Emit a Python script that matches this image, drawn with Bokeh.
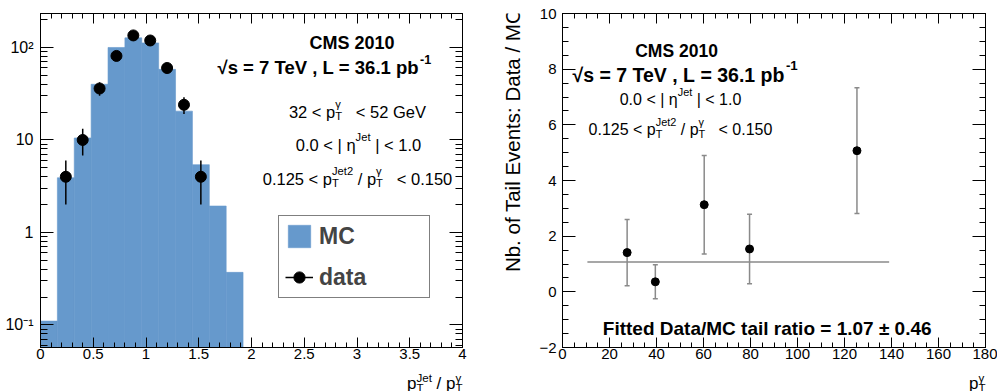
import math
from bokeh.plotting import figure
from bokeh.models import (Label, LinearAxis, LogAxis, FixedTicker, Range1d,
                          ColumnDataSource, Whisker, TeeHead, Legend, LegendItem)
from bokeh.layouts import row, column
from bokeh.embed import file_html
from bokeh.resources import INLINE

# ---------------- data ----------------
bin_edges = [0.0, 0.16, 0.32, 0.48, 0.64, 0.80, 0.96, 1.12, 1.28, 1.44, 1.60, 1.76, 1.92]
mc_counts = [0.11, 3.9, 10.5, 40.0, 100.0, 127.0, 112.0, 58.0, 20.5, 5.4, 1.93, 0.37]
data_x = [0.24, 0.40, 0.56, 0.72, 0.88, 1.04, 1.20, 1.36, 1.52]
data_y = [4, 10, 36, 81, 135, 119, 60, 24, 4]
data_err = [2.0, 3.2, 6.0, 9.0, 11.6, 10.9, 7.7, 4.9, 2.0]

ratio_pt = [27.5, 39.5, 60.3, 79.6, 125.3]
ratio_val = [1.41, 0.36, 3.13, 1.54, 5.07]
ratio_err = [1.19, 0.61, 1.77, 1.25, 2.26]
fit_value = 1.07
fit_range = [10.6, 139.0]

x1_ticks = [0, 0.5, 1, 1.5, 2, 2.5, 3, 3.5, 4]
y1_ticks = [0.1, 1, 10, 100]
y1_labels = {0.1: "10\u207b\u00b9", 1: "1", 10: "10", 100: "10\u00b2"}
x2_ticks = [0, 20, 40, 60, 80, 100, 120, 140, 160, 180]
y2_ticks = [-2, 0, 2, 4, 6, 8, 10]

FONT = "Liberation Sans"
MC_COLOR = "#6699cc"
GRAY = "#8a8a8a"
NB = "\u00a0"

# ---------------- text width helper (Arial / Liberation Sans metrics) ----------------
W_REG = {' ': 278, NB: 278, ',': 278, '-': 333, '.': 278, '/': 278, ':': 278, '<': 584, '=': 584,
         '|': 260, '\u00b1': 584, '\u03b3': 500, '\u03b7': 556, '\u221a': 549,
         'A': 667, 'C': 722, 'D': 722, 'E': 667, 'F': 611, 'G': 778, 'J': 500, 'L': 556,
         'M': 833, 'N': 722, 'T': 611, 'V': 667,
         'a': 556, 'b': 556, 'e': 556, 'f': 278, 'i': 222, 'l': 222, 'n': 556, 'o': 556,
         'p': 556, 'r': 333, 's': 500, 't': 278, 'v': 500}
W_BOLD = {' ': 278, NB: 278, ',': 278, '-': 333, '.': 278, '/': 278, ':': 333, '<': 584, '=': 584,
          '\u00b1': 584, '\u221a': 549,
          'A': 722, 'C': 722, 'D': 722, 'F': 611, 'L': 611, 'M': 833, 'S': 667, 'T': 611, 'V': 667,
          'a': 556, 'b': 611, 'd': 611, 'e': 556, 'f': 333, 'i': 278, 'l': 278, 'o': 611,
          'p': 611, 'r': 389, 's': 556, 't': 333, 'u': 611}


def tw(s, size, bold):
    tbl = W_BOLD if bold else W_REG
    return sum(tbl.get(c, 556) for c in s) * size / 1000.0


def rich(p, fl, fb, X, Y, segs, size, bold=False, align="left", sup_dy=0.45, sub_dy=0.3):
    """Text made of normal / sup / sub / stacked segments; X, Y are page coords
    (fl, fb = page coords of the frame's left and bottom edges)."""
    small = size * 0.68
    widths = []
    for seg in segs:
        if seg[0] == "n":
            widths.append(tw(seg[1], size, bold))
        elif seg[0] in ("sup", "sub"):
            widths.append(tw(seg[1], small, bold))
        else:
            widths.append(max(tw(seg[1], small, bold), tw(seg[2], small, bold)))
    total = sum(widths)
    x = X - (total / 2 if align == "center" else total if align == "right" else 0)
    style = "bold" if bold else "normal"

    def put(txt, xx, dy, fs):
        txt = txt.replace(" ", NB)
        p.add_layout(Label(x=round(xx - fl, 1), y=round(fb - Y + dy, 1),
                           x_units="screen", y_units="screen",
                           text=txt, text_font=FONT, text_font_size=f"{fs:.1f}px",
                           text_font_style=style, text_color="black",
                           text_align="left", text_baseline="alphabetic"))

    for seg, w in zip(segs, widths):
        if seg[0] == "n":
            put(seg[1], x, 0, size)
        elif seg[0] == "sup":
            put(seg[1], x, sup_dy * size, small)
        elif seg[0] == "sub":
            put(seg[1], x, -sub_dy * size, small)
        else:
            put(seg[1], x, -sub_dy * size, small)
            put(seg[2], x, sup_dy * size, small)
        x += w


def style_axis(ax, major_in, minor_in, show_labels=True, size="15px", standoff=3):
    ax.major_tick_in = major_in
    ax.major_tick_out = 0
    ax.minor_tick_in = minor_in
    ax.minor_tick_out = 0
    ax.axis_line_color = "black"
    ax.major_tick_line_color = "black"
    ax.minor_tick_line_color = "black"
    if show_labels:
        ax.major_label_text_font = FONT
        ax.major_label_text_font_size = size
        ax.major_label_text_color = "black"
        ax.major_label_standoff = standoff
    else:
        ax.major_label_text_font_size = "1px"
        ax.major_label_text_alpha = 0
        ax.major_label_standoff = 0


def blank_fig(w, h):
    f = figure(width=w, height=h, x_range=Range1d(0, w), y_range=Range1d(0, h),
               x_axis_location=None, y_axis_location=None, output_backend="svg",
               toolbar_location=None, min_border=0)
    f.grid.visible = False
    f.outline_line_color = None
    f.background_fill_color = "white"
    f.border_fill_color = "white"
    return f


HT = 365  # height of the row holding the two plots; a text strip sits below

# ================= left figure =================
W1 = 490
FL1, FB1 = 40, 347  # frame left / bottom in page coords
p1 = figure(width=W1, height=HT, x_range=Range1d(0, 4), y_range=Range1d(0.057, 233),
            y_axis_type="log", output_backend="svg", toolbar_location=None,
            min_border_left=40, min_border_right=28, min_border_top=13, min_border_bottom=HT - FB1)
p1.grid.visible = False
p1.outline_line_color = "black"
p1.background_fill_color = "white"
p1.border_fill_color = "white"

x1_minor = [round(i * 0.1, 2) for i in range(0, 41)]
y1_minor = [m * 10.0 ** e for e in range(-2, 3) for m in range(2, 10)]

p1.xaxis.ticker = FixedTicker(ticks=x1_ticks, minor_ticks=x1_minor)
p1.yaxis.ticker = FixedTicker(ticks=y1_ticks, minor_ticks=y1_minor)
p1.yaxis.major_label_overrides = y1_labels
style_axis(p1.xaxis[0], 10, 5, True, "15px", 1)
style_axis(p1.yaxis[0], 13, 7, True, "16px", 7)

ax_top = LinearAxis(ticker=FixedTicker(ticks=x1_ticks, minor_ticks=x1_minor))
style_axis(ax_top, 10, 5, False)
p1.add_layout(ax_top, "above")
ax_right = LogAxis(ticker=FixedTicker(ticks=y1_ticks, minor_ticks=y1_minor))
style_axis(ax_right, 13, 7, False)
p1.add_layout(ax_right, "right")

hist_src = ColumnDataSource(dict(left=bin_edges[:-1], right=bin_edges[1:], top=mc_counts,
                                 bottom=[1e-3] * len(mc_counts)))
r_mc = p1.quad(left="left", right="right", top="top", bottom="bottom", source=hist_src,
               fill_color=MC_COLOR, line_color=MC_COLOR, line_width=0.6)

dsrc = ColumnDataSource(dict(x=data_x, y=data_y,
                             lo=[y - e for y, e in zip(data_y, data_err)],
                             hi=[y + e for y, e in zip(data_y, data_err)]))
r_err = p1.segment(x0="x", x1="x", y0="lo", y1="hi", source=dsrc, line_color="black", line_width=1.5)
r_pts = p1.scatter(x="x", y="y", source=dsrc, size=11, marker="circle",
                   fill_color="black", line_color="black")

leg = Legend(items=[LegendItem(label="MC", renderers=[r_mc]),
                    LegendItem(label="data", renderers=[r_err, r_pts])],
             location=(238, 49), orientation="vertical",
             label_text_font=FONT, label_text_font_size="23px", label_text_font_style="bold",
             glyph_width=28, glyph_height=28, label_width=104, label_standoff=6,
             padding=6, spacing=13, margin=0,
             border_line_color="black", border_line_width=1,
             background_fill_color="white", background_fill_alpha=1.0)
p1.add_layout(leg, "center")

rich(p1, FL1, FB1, 309, 42, [("n", "CMS 2010")], 18, bold=True)
rich(p1, FL1, FB1, 217, 67, [("n", "\u221as = 7 TeV , L = 36.1 pb"), ("sup", "-1")], 18.5, bold=True)
rich(p1, FL1, FB1, 357, 111, [("n", "32 < p"), ("ss", "T", "\u03b3"), ("n", "   < 52 GeV")], 16.5, align="center")
rich(p1, FL1, FB1, 358, 144, [("n", "0.0 < | \u03b7"), ("sup", "Jet"), ("n", " | < 1.0")], 16.5, align="center")
rich(p1, FL1, FB1, 357, 178, [("n", "0.125 < p"), ("ss", "T", "Jet2"), ("n", " / p"),
                              ("ss", "T", "\u03b3"), ("n", "   < 0.150")], 16.5, align="center")

# ================= y-title strip between the plots =================
WY = 36
ylab = blank_fig(WY, HT)
ylab.add_layout(Label(x=22, y=HT - 158, x_units="screen", y_units="screen",
                      text="Nb. of Tail Events: Data / MC", angle=math.pi / 2,
                      text_font=FONT, text_font_size="20.5px", text_color="black",
                      text_align="center", text_baseline="middle"))

# ================= right figure =================
W2 = 997 - W1 - WY
FL2, FB2 = 562, 347
p2 = figure(width=W2, height=HT, x_range=Range1d(0, 180), y_range=Range1d(-2, 10),
            output_backend="svg", toolbar_location=None,
            min_border_left=FL2 - W1 - WY, min_border_right=12, min_border_top=13,
            min_border_bottom=HT - FB2)
p2.grid.visible = False
p2.outline_line_color = "black"
p2.background_fill_color = "white"
p2.border_fill_color = "white"

x2_minor = list(range(0, 181, 5))
y2_minor = [v * 0.5 for v in range(-4, 21)]
p2.xaxis.ticker = FixedTicker(ticks=x2_ticks, minor_ticks=x2_minor)
p2.yaxis.ticker = FixedTicker(ticks=y2_ticks, minor_ticks=y2_minor)
style_axis(p2.xaxis[0], 10, 5, True, "15px", 1)
style_axis(p2.yaxis[0], 13, 6, True, "15px", 6)

ax2_top = LinearAxis(ticker=FixedTicker(ticks=x2_ticks, minor_ticks=x2_minor))
style_axis(ax2_top, 10, 5, False)
p2.add_layout(ax2_top, "above")
ax2_right = LinearAxis(ticker=FixedTicker(ticks=y2_ticks, minor_ticks=y2_minor))
style_axis(ax2_right, 13, 6, False)
p2.add_layout(ax2_right, "right")

rsrc = ColumnDataSource(dict(x=ratio_pt, y=ratio_val,
                             lo=[v - e for v, e in zip(ratio_val, ratio_err)],
                             hi=[v + e for v, e in zip(ratio_val, ratio_err)]))
fsrc = ColumnDataSource(dict(x0=[fit_range[0]], x1=[fit_range[1]], y=[fit_value]))
p2.segment(x0="x0", x1="x1", y0="y", y1="y", source=fsrc, line_color=GRAY, line_width=1.5)
wh = Whisker(source=rsrc, base="x", upper="hi", lower="lo", dimension="height",
             line_color=GRAY, line_width=1.5,
             upper_head=TeeHead(size=5, line_color=GRAY, line_width=1.5),
             lower_head=TeeHead(size=5, line_color=GRAY, line_width=1.5))
p2.add_layout(wh)
p2.scatter(x="x", y="y", source=rsrc, size=8, marker="circle", fill_color="black", line_color="black")

rich(p2, FL2, FB2, 676, 50, [("n", "CMS 2010")], 17.5, bold=True, align="center")
rich(p2, FL2, FB2, 572, 74, [("n", "\u221as = 7 TeV , L = 36.1 pb"), ("sup", "-1")], 19.5, bold=True)
rich(p2, FL2, FB2, 680, 99, [("n", "0.0 < | \u03b7"), ("sup", "Jet"), ("n", " | < 1.0")], 16, align="center")
rich(p2, FL2, FB2, 680, 129, [("n", "0.125 < p"), ("ss", "T", "Jet2"), ("n", " / p"),
                              ("ss", "T", "\u03b3"), ("n", "   < 0.150")], 16, align="center")
rich(p2, FL2, FB2, 767, 328, [("n", "Fitted Data/MC tail ratio = 1.07 \u00b1 0.46")], 19, bold=True,
     align="center")

# ================= x-title strip under both plots =================
HS = 391 - HT
xs = blank_fig(997, HS)
rich(xs, 0, 391, 462, 383, [("n", "p"), ("ss", "T", "Jet"), ("n", " / p"), ("ss", "T", "\u03b3")],
     17, align="right", sup_dy=0.33, sub_dy=0.25)
rich(xs, 0, 391, 985, 383, [("n", "p"), ("ss", "T", "\u03b3")], 17, align="right",
     sup_dy=0.33, sub_dy=0.25)

layout = column(row(p1, ylab, p2), xs)
open("out.html", "w").write(file_html(layout, INLINE))
